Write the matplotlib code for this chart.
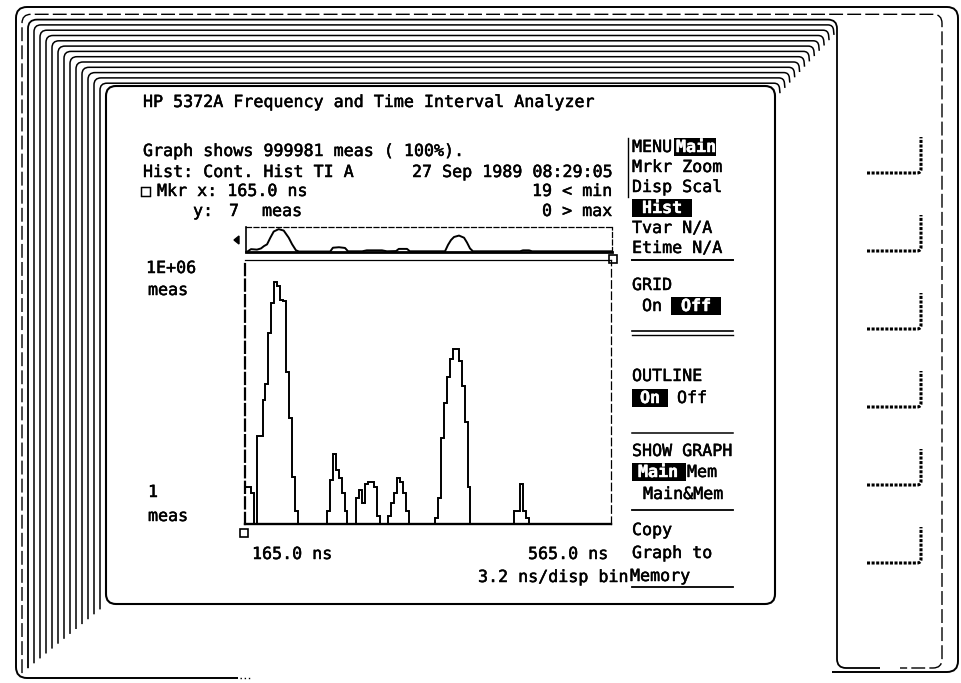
import numpy as np
import matplotlib
matplotlib.use("Agg")
import matplotlib.pyplot as plt
import matplotlib.patheffects as pe
from matplotlib.path import Path
from matplotlib.patches import PathPatch, Rectangle, Polygon
from matplotlib.ticker import NullLocator

# ---------------- data ----------------
x_start_ns = 165.0
x_end_ns = 565.0
ns_per_bin = 3.2
y_min_meas = 1
y_max_meas = 1e6

# display bin number (0 = 165.0 ns) and measurements in that bin (empty bins omitted)
bin_number = [0, 1, 2,
              4, 5, 6, 7, 8, 9, 10, 11, 12, 13, 14, 15, 16, 17,
              28, 29, 30, 31, 32, 33, 34,
              38, 39, 40, 41, 42, 43, 44, 45,
              49, 50, 51, 52, 53, 54, 55,
              65, 66, 67, 68, 69, 70, 71, 72, 73, 74, 75, 76,
              92, 93, 94, 95, 96]
bin_count = [7, 7, 5,
             100, 100, 650, 1550, 21800, 105000, 320000, 260000, 125000, 115000, 2800, 260, 12, 2,
             2, 10, 38, 17, 11, 5, 2,
             4, 6, 3, 8, 9, 9, 7, 1.5,
             1.5, 3, 5, 11, 9, 5, 2,
             1.4, 4, 90, 550, 2150, 5600, 9500, 9500, 5100, 1400, 210, 7,
             2, 2, 8, 2, 1.4]

# overview strip above the graph (relative height)
overview_ns = [165, 167, 170.5, 177, 181.4, 184.7, 188, 191.6, 195.3, 200.7,
               206.2, 211.7, 215.3, 219.6, 223, 257, 260, 266.6, 273.2, 276.5,
               292, 297, 313.6, 319, 329, 332, 341, 344, 382.5, 385.8,
               389, 392.3, 397.8, 403.3, 406.5, 409.8, 413, 464.5, 467.7, 474.3,
               477.6, 565]
overview_level = [0.0, 0.03, 0.12, 0.10, 0.15, 0.25, 0.32, 0.60, 0.86, 0.96,
                  0.90, 0.60, 0.33, 0.07, 0.02, 0.02, 0.18, 0.20, 0.17, 0.03,
                  0.03, 0.07, 0.07, 0.03, 0.04, 0.13, 0.13, 0.03, 0.03, 0.30,
                  0.50, 0.63, 0.69, 0.60, 0.40, 0.15, 0.03, 0.03, 0.07, 0.07,
                  0.03, 0.03]

# ---------------- figure ----------------
W, H = 962, 683
fig = plt.figure(figsize=(W / 100, H / 100), dpi=100, facecolor="white")
bg = fig.add_axes([0, 0, 1, 1])
bg.set_xlim(0, W)
bg.set_ylim(H, 0)
bg.axis("off")

MONO = ["DejaVu Sans Mono", "DejaVu Sans"]


def rpath(pts, r):
    verts = [pts[0]]
    codes = [Path.MOVETO]
    for i in range(1, len(pts) - 1):
        p0 = np.array(pts[i - 1], float)
        p1 = np.array(pts[i], float)
        p2 = np.array(pts[i + 1], float)
        d1, d2 = p0 - p1, p2 - p1
        l1, l2 = np.hypot(*d1), np.hypot(*d2)
        rr = min(r, l1 / 2, l2 / 2)
        a = p1 + d1 / l1 * rr
        b = p1 + d2 / l2 * rr
        verts += [tuple(a), tuple(p1), tuple(b)]
        codes += [Path.LINETO, Path.CURVE3, Path.CURVE3]
    verts.append(pts[-1])
    codes.append(Path.LINETO)
    return Path(verts, codes)


def draw(pts, r=9, lw=1.1, ls="-"):
    bg.add_patch(PathPatch(rpath(pts, r), fill=False, lw=lw, ec="black",
                           ls=ls, capstyle="butt", joinstyle="round"))


def txt(x, y, s, ha="left", color="black", weight="normal", size=12):
    t = bg.text(x, y, s, ha=ha, va="center", fontsize=size, family=MONO,
                color=color, weight=weight)
    t.set_path_effects([pe.withStroke(linewidth=0.35, foreground=color)])


def inv(x0, x1, y, s, tx):
    bg.add_patch(Rectangle((x0, y - 9), x1 - x0, 18, fc="black", ec="none"))
    txt(tx, y, s, color="white", weight="bold")


# ---------------- bezel ----------------
draw([(238, 678), (16, 678), (16, 7), (958, 7), (958, 672), (832, 672)], r=11, lw=1.4)
bg.plot([240, 252], [678, 678], color="black", lw=1, ls=(0, (1, 2)))

n_lines = 14
for k in range(1, n_lines + 1):
    left = 16 + 6.0 * k
    top = 9 + 5.3 * k
    bottom = 678 - 4.9 * k
    if k == 1:
        draw([(left, bottom), (left, top), (942, top), (942, 668), (900, 668)], r=9, lw=1.0,
             ls=(0, (10, 3)))
    elif k == 2:
        draw([(left, bottom), (left, top), (837, top), (837, 668), (880, 668)], r=9, lw=1.3)
    else:
        xend = 833 - (k - 3) * (833 - 779) / (n_lines - 3)
        draw([(left, bottom), (left, top), (xend, top), (xend + 1, top + 10)], r=7, lw=1.1)

# screen
draw([(440, 604), (106, 604), (106, 86), (775, 86), (775, 604), (440, 604)], r=10, lw=1.5)

# soft-key marks
for y0 in [137, 215, 293, 371, 449, 527]:
    draw([(867, y0 + 36), (921, y0 + 36), (921, y0)], r=4, lw=2.2, ls=(0, (1.0, 0.5)))

# ---------------- header text ----------------
txt(143, 102, "HP 5372A Frequency and Time Interval Analyzer")
txt(143, 151, "Graph shows 999981 meas ( 100%).")
txt(143, 172, "Hist: Cont. Hist TI A")
txt(612, 172, "27 Sep 1989 08:29:05", ha="right")
txt(141, 191, "\u25a1")
txt(157, 191, "Mkr x: 165.0 ns")
txt(612, 191, "19 < min", ha="right")
txt(193, 211, "y:")
txt(229, 211, "7")
txt(262, 211, "meas")
txt(612, 211, "0 > max", ha="right")

txt(146, 268, "1E+06")
txt(148, 290, "meas")
txt(148, 492, "1")
txt(148, 516, "meas")
txt(252, 554, "165.0 ns")
txt(608, 554, "565.0 ns", ha="right")
txt(628, 577, "3.2 ns/disp bin", ha="right")

# ---------------- menu ----------------
txt(632, 147, "MENU")
inv(674, 716, 147, "Main", 676)
bg.plot([628, 628], [138, 197], color="black", lw=1.0)
txt(632, 167, "Mrkr Zoom")
txt(632, 187, "Disp Scal")
inv(632, 692, 208, "Hist", 642)
txt(632, 228, "Tvar N/A")
txt(632, 248, "Etime N/A")
bg.plot([632, 733], [260, 260], color="black", lw=1.4)
txt(632, 285, "GRID")
txt(642, 306, "On")
inv(671, 721, 306, "Off", 681)
bg.plot([632, 733], [331, 331], color="black", lw=1.2)
bg.plot([632, 733], [335, 335], color="black", lw=1.0)
txt(632, 376, "OUTLINE")
inv(632, 668, 398, "On", 640)
txt(677, 398, "Off")
bg.plot([632, 733], [433, 433], color="black", lw=1.1)
txt(632, 451, "SHOW GRAPH")
inv(632, 686, 472, "Main", 638)
txt(687, 472, "Mem")
txt(643, 494, "Main&Mem")
bg.plot([632, 733], [510, 510], color="black", lw=1.3)
txt(632, 530, "Copy")
txt(632, 553, "Graph to")
txt(630, 576, "Memory")
bg.plot([632, 733], [587, 587], color="black", lw=1.3)

# markers
bg.add_patch(Rectangle((240, 529), 8, 8, fill=False, ec="black", lw=1.2))
bg.add_patch(Rectangle((609, 255), 8, 8, fill=False, ec="black", lw=1.2))
bg.add_patch(Polygon([(234, 240), (239, 236), (239, 244)], closed=True, fc="black", ec="black"))


# ---------------- histogram ----------------
def fig_rect(x0, y0, x1, y1):
    return [x0 / W, (H - y1) / H, (x1 - x0) / W, (y1 - y0) / H]


ax = fig.add_axes(fig_rect(245, 260, 611, 524))
ax.set_facecolor("none")
n_bins = int(round((x_end_ns - x_start_ns) / ns_per_bin))
edges = x_start_ns + ns_per_bin * np.arange(n_bins + 1)
counts = np.zeros(n_bins)
counts[bin_number] = bin_count
ax.stairs(np.clip(counts, y_min_meas, None), edges, baseline=None, color="black", lw=1.4)
ax.set_yscale("log")
ax.set_xlim(x_start_ns, x_end_ns)
ax.set_ylim(y_min_meas, y_max_meas)
ax.set_xticks([])
ax.set_yticks([])
ax.yaxis.set_minor_locator(NullLocator())
ax.spines["left"].set_linestyle((0, (5, 2)))
ax.spines["left"].set_linewidth(1.6)
ax.spines["right"].set_linestyle((0, (6, 3)))
ax.spines["right"].set_linewidth(0.9)
ax.spines["top"].set_linewidth(0.9)
ax.spines["bottom"].set_linewidth(1.7)

# overview strip
ov = fig.add_axes(fig_rect(246, 227, 612, 252))
ov.set_facecolor("none")
ov.plot(overview_ns, overview_level, color="black", lw=1.4)
ov.set_xlim(x_start_ns, x_end_ns)
ov.set_ylim(0, 1.05)
ov.set_xticks([])
ov.set_yticks([])
ov.spines["top"].set_linestyle((0, (4, 2)))
ov.spines["top"].set_linewidth(0.9)
ov.spines["right"].set_linestyle((0, (4, 2)))
ov.spines["right"].set_linewidth(0.9)
ov.spines["left"].set_linewidth(1.2)
ov.spines["bottom"].set_linewidth(2.0)

fig.savefig("out.png", dpi=100, facecolor="white")
